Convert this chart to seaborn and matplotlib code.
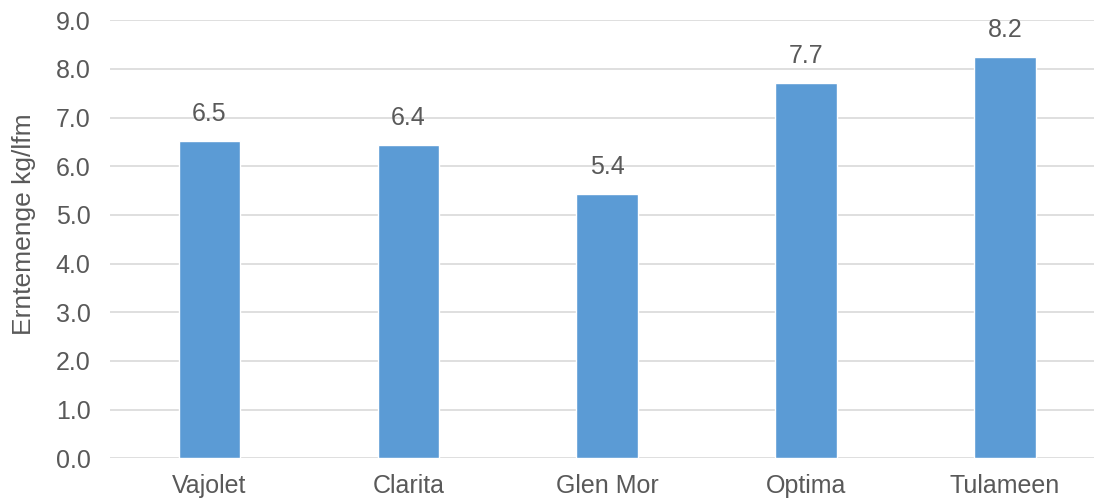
import matplotlib
matplotlib.use("Agg")
import matplotlib.pyplot as plt
import seaborn as sns
import pandas as pd

# Yield per variety (kg per running metre)
varieties = ["Vajolet", "Clarita", "Glen Mor", "Optima", "Tulameen"]
yields = [6.52, 6.43, 5.43, 7.71, 8.24]
yticks = [0.0, 1.0, 2.0, 3.0, 4.0, 5.0, 6.0, 7.0, 8.0, 9.0]

sns.set_theme(style="white")
plt.rcParams["font.family"] = ["Liberation Sans", "DejaVu Sans"]

text_color = "#595959"
bar_color = "#5b9bd5"

df = pd.DataFrame({"sort": varieties, "avling": yields})

W, H = 1094, 499
fig = plt.figure(figsize=(W / 100, H / 100), dpi=100)
ax = fig.add_axes([110 / W, (H - 458.3) / H, 994.5 / W, 438 / H])

sns.barplot(data=df, x="sort", y="avling", color=bar_color, width=0.31,
            saturation=1, ax=ax, zorder=3)

ax.set_ylim(0, 9)
ax.set_xlim(-0.5, len(varieties) - 0.5)
ax.set_yticks(yticks)
ax.set_yticklabels([f"{v:.1f}" for v in yticks])
ax.yaxis.grid(True, color="#d9d9d9", linewidth=1.2, zorder=0)
ax.set_axisbelow(True)
for s in ax.spines.values():
    s.set_visible(False)

ax.tick_params(axis="both", length=0, labelsize=18, labelcolor=text_color)
ax.tick_params(axis="y", pad=14)
ax.tick_params(axis="x", pad=11)
ax.set_xlabel("")
ax.set_ylabel("Erntemenge kg/lfm", fontsize=19, color=text_color)
ax.yaxis.set_label_coords(-0.074, 0.535)

for patch, v in zip(ax.patches, yields):
    ax.annotate(f"{v:.1f}", (patch.get_x() + patch.get_width() / 2, v),
                xytext=(0, 11), textcoords="offset points",
                ha="center", va="bottom", fontsize=18, color=text_color)

fig.savefig("out.png", dpi=100)
